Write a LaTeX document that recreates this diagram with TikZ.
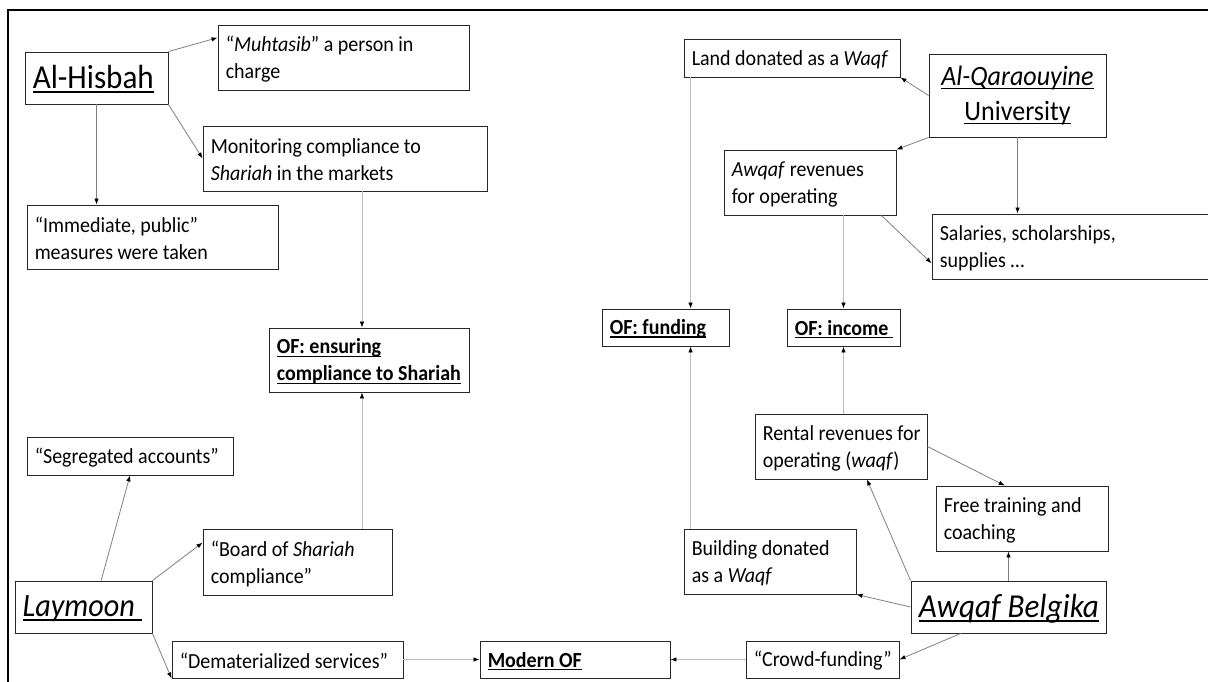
\documentclass[tikz,border=0pt]{standalone}
\usepackage{fontspec}
\setmainfont{Carlito}[FakeStretch=0.93]
\usetikzlibrary{calc,arrows.meta}
\newcommand\ulx[1]{{\setbox0\hbox{#1}\rlap{\vrule height -0.08em depth 0.14em width \wd0}\box0}}
\newcommand\fsn{\fontsize{21.5}{27}\selectfont}
\definecolor{conn}{HTML}{808080}
\definecolor{connl}{HTML}{BDBDBD}
\tikzset{
  boxst/.style={draw=black!85, line width=0.9pt, inner sep=0pt},
  txt/.style={inner xsep=8pt, inner ysep=0pt, align=left, font=\fsn, yshift=-1.5pt},
  arr/.style={draw=conn, line width=0.8pt, -{Latex[length=6pt,width=4.5pt,black]}},
  arrl/.style={draw=connl, line width=0.8pt, -{Latex[length=6pt,width=4.5pt,black]}}
}
\newcommand\bx[6]{%
  \node[boxst, minimum width={#4-#2}, minimum height={#5-#3}] (#1) at ({(#2+#4)/2},{(#3+#5)/2}) {};
  \node[txt, anchor=west] (#1-t) at (#1.west) {#6};}
\begin{document}
\begin{tikzpicture}[x=1pt,y=-1pt]
\useasboundingbox (0,0) rectangle (1208,682);
\fill[white] (0,0) rectangle (1208,682);
\draw[line width=2pt] (8,10) rectangle (1230,700);
% left part
\node[boxst, minimum width=143, minimum height=52] (hisbah) at (96.5,78) {};
\node[txt, anchor=west, font=\fontsize{33.5}{40}\selectfont] (hisbah-t) at (hisbah.west) {\ulx{Al-Hisbah}};
\bx{muht}{218}{25}{469}{90}{“\textit{Muhtasib}” a person in\\charge}
\bx{mon}{203}{126}{487}{191}{Monitoring compliance to\\\textit{Shariah} in the markets}
\bx{imm}{27}{205}{278}{269}{“Immediate, public”\\measures were taken}
\bx{ofc}{269}{328}{469}{392}{\textbf{\ulx{OF: ensuring}}\\\textbf{\ulx{compliance to Shariah}}}
\bx{seg}{27}{437}{233}{475}{“Segregated accounts”}
\bx{board}{203}{529}{392}{595}{“Board of \textit{Shariah}\\compliance”}
\node[boxst, minimum width=137, minimum height=52] (lay) at (83.5,607) {};
\node[txt, anchor=west, font=\fontsize{32.5}{38}\selectfont] (lay-t) at (lay.west) {\textit{\ulx{Laymoon }}};
\bx{dem}{172}{641}{403}{678}{“Dematerialized services”}
\bx{modern}{480}{641}{670}{678}{\textbf{\ulx{Modern OF}}}
% right part
\bx{land}{684}{39}{900}{77}{Land donated as a \textit{Waqf}}
\node[boxst, minimum width=177, minimum height=83] (aq) at (1017.5,95.5) {};
\node[align=center, font=\fontsize{28}{35}\selectfont, inner sep=0pt] (aq-t) at (aq.center) {\textit{\ulx{Al-Qaraouyine}}\\\ulx{University}};
\bx{awq}{724}{150}{896}{215}{\textit{Awqaf} revenues\\for operating}
\bx{sal}{932}{214}{1212}{279}{Salaries, scholarships,\\supplies …}
\bx{offund}{602}{309}{729}{346}{\textbf{\ulx{OF: funding}}}
\bx{ofinc}{787}{309}{900}{346}{\textbf{\ulx{OF: income }}}
\bx{rent}{755}{414}{927}{479}{Rental revenues for\\operating (\textit{waqf})}
\bx{free}{936}{486}{1108}{551}{Free training and\\coaching}
\bx{build}{684}{529}{856}{594}{Building donated\\as a \textit{Waqf}}
\node[boxst, minimum width=195, minimum height=52] (belg) at (1008.5,607) {};
\node[txt, anchor=west, font=\fontsize{33.5}{40}\selectfont] (belg-t) at (belg.west) {\textit{\ulx{Awqaf Belgika}}};
\bx{crowd}{746}{641}{899}{678}{“Crowd-funding”}
% connectors
\draw[arr] (hisbah.north east) -- ($(muht.north west)!0.2!(muht.south west)$);
\draw[arr] (hisbah.south east) -- (mon.west);
\draw[arr] (hisbah.south) -- (hisbah.south |- imm.north);
\coordinate (ofcx) at ($(ofc.north west)!0.465!(ofc.north east)$);
\draw[arrl] (ofcx |- mon.south) -- (ofcx);
\draw[arrl] (ofcx |- board.north) -- (ofcx |- ofc.south);
\draw[arr] ($(lay.north west)!0.628!(lay.north east)$) -- (seg.south);
\draw[arr] (lay.north east) -- ($(board.north west)!0.21!(board.south west)$);
\draw[arr] (lay.south east) -- (dem.south west);
\draw[arrl] (dem.east) -- (modern.west);
\draw[arr] (aq.west) -- (land.south east);
\draw[arr] (aq.south west) -- (awq.north east);
\draw[arr] (aq.south) -- (aq.south |- sal.north);
\draw[arr] ($(awq.south west)!0.913!(awq.south east)$) -- ($(sal.north west)!0.754!(sal.south west)$);
\coordinate (landx) at ([xshift=7pt]land.south west);
\draw[arrl] (landx) -- (landx |- offund.north);
\draw[arrl] (ofinc.north |- awq.south) -- (ofinc.north);
\draw[arrl] (landx |- build.north) -- (landx |- offund.south);
\draw[arrl] (ofinc.south |- rent.north) -- (ofinc.south);
\draw[arr] (rent.east) -- ($(free.north west)!0.4!(free.north east)$);
\draw[arr] (belg.north west) -- ($(rent.south west)!0.65!(rent.south east)$);
\draw[arr] (belg.north) -- (belg.north |- free.south);
\draw[arr] (belg.west) -- (build.south east);
\draw[arr] ($(belg.south west)!0.256!(belg.south east)$) -- (crowd.east);
\draw[arrl] (crowd.west) -- (modern.east);
\end{tikzpicture}
\end{document}
